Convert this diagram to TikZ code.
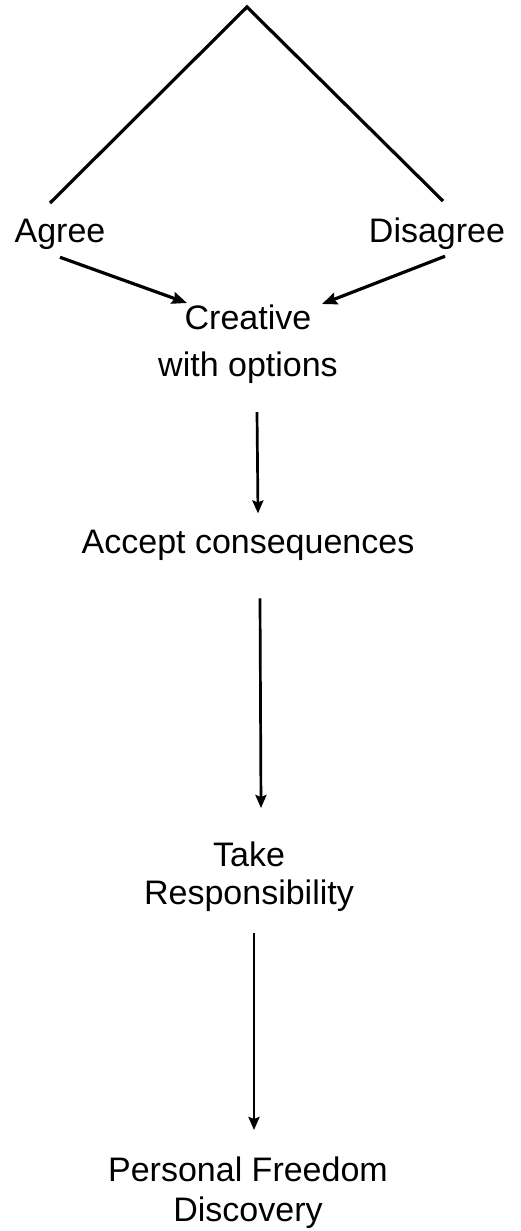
\documentclass[tikz,border=0pt]{standalone}
\usepackage{fontspec}
\setmainfont{Liberation Sans}
\usetikzlibrary{arrows.meta,calc}
\begin{document}
\begin{tikzpicture}[x=1pt,y=-1pt,
  label/.style={inner sep=0pt, font=\fontsize{34}{40}\selectfont, align=center},
  branch/.style={line width=3.2pt, line join=miter},
  arr/.style={line width=2.7pt, -{Stealth[length=13pt,width=11pt,inset=2pt]}},
  diag/.style={line width=3.2pt, -{Stealth[length=15pt,width=12pt,inset=2pt]}},
]
\useasboundingbox (0,0) rectangle (520,1231);

% the fork at the top
\coordinate (top) at (247,7);
\coordinate (lend) at (50,203);
\coordinate (rend) at (443,201);

% labels
\node[label, anchor=base] (agree) at (60,242) {Agree};
\node[label, anchor=base] (disagree) at (437,242) {Disagree};
\node[label, anchor=north, font=\fontsize{34}{47}\selectfont] (creative) at (248,305) {Creative\\with options};
\node[label, anchor=base] (accept) at (248,553) {Accept consequences};
\node[label, anchor=north, font=\fontsize{34}{38}\selectfont] (take) at (249,842) {Take\\Responsibility};
\node[label, anchor=north] (freedom) at (248,1157) {Personal Freedom\\Discovery};

% connectors
\draw[branch] (lend) -- (top) -- (rend);
\draw[diag] ([yshift=-8pt]agree.south) -- ([xshift=-61pt,yshift=2pt]creative.north);
\draw[diag] ([xshift=8pt,yshift=-7pt]disagree.south) -- ([xshift=74pt,yshift=1pt]creative.north);
\draw[arr] ([xshift=9pt,yshift=-28pt]creative.south) -- ([xshift=10pt,yshift=16pt]accept.north);
\draw[arr] ([xshift=12pt,yshift=-38pt]accept.south) -- ([xshift=12pt,yshift=34pt]take.north);
\draw[arr] ([xshift=5pt,yshift=-21pt]take.south) -- ([xshift=6pt,yshift=27pt]freedom.north);
\end{tikzpicture}
\end{document}
